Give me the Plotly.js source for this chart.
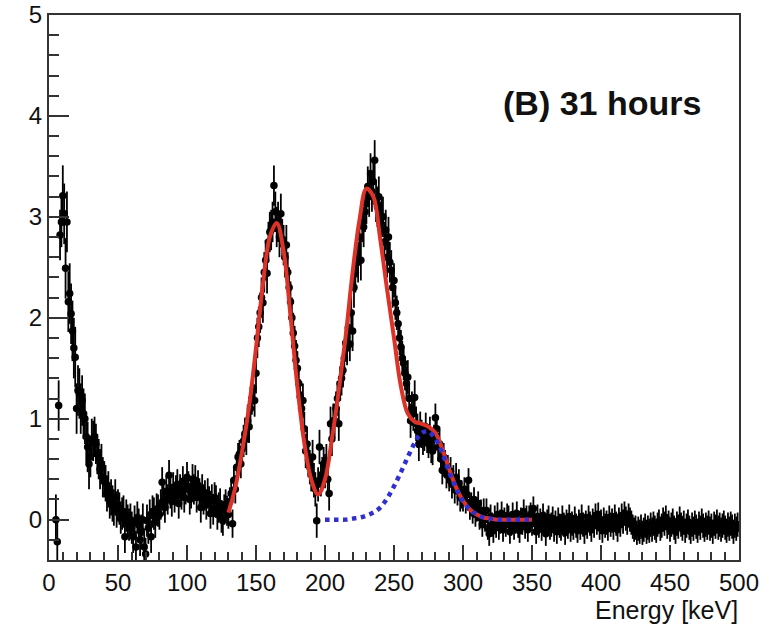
<!DOCTYPE html>
<html>
<head>
<meta charset="utf-8">
<script src="https://cdn.plot.ly/plotly-3.0.1.min.js"></script>
<style>
  html, body { margin: 0; padding: 0; background: #fff; }
  #chart { width: 768px; height: 627px; }
</style>
</head>
<body>
<div id="chart"></div>
<script>
// ---- Data: 1 keV bins, first bin centre at 5 keV ----
const binStart = 5;
const binWidth = 1;
const counts = [
  /* 5-9 */     0.00, -0.22, 1.13, 2.82, 2.95,
  /* 10-19 */   3.21, 3.03, 2.49, 2.95, 2.16, 2.24, 2.04, 1.87, 1.70, 1.61,
  /* 20-29 */   1.10, 1.28, 1.25, 1.10, 1.18, 1.05, 1.00, 0.82, 0.72, 0.55,
  /* 30-39 */   0.62, 0.80, 0.78, 0.82, 0.75, 0.65, 0.60, 0.50, 0.55, 0.42,
  /* 40-49 */   0.40, 0.36, 0.26, 0.30, 0.19, 0.22, 0.16, 0.12, 0.22, 0.10,
  /* 50-59 */   0.14, 0.11, 0.02, 0.06, 0.08, -0.17, 0.04, -0.01, -0.05, 0.00,
  /* 60-69 */   -0.08, -0.17, -0.02, -0.27, 0.02, -0.05, -0.20, -0.11, 0.00, -0.27,
  /* 70-79 */   -0.34, -0.01, -0.08, 0.04, -0.17, 0.08, 0.06, -0.02, 0.10, 0.09,
  /* 80-89 */   0.05, 0.15, 0.37, 0.19, 0.12, 0.28, 0.20, 0.44, 0.26, 0.18,
  /* 90-99 */   0.32, 0.22, 0.29, 0.35, 0.16, 0.30, 0.25, 0.38, 0.22, 0.30,
  /* 100-109 */ 0.42, 0.33, 0.20, 0.26, 0.40, 0.30, 0.39, 0.22, 0.34, 0.26,
  /* 110-119 */ 0.12, 0.30, 0.20, 0.24, 0.15, 0.26, 0.18, 0.06, 0.20, 0.10,
  /* 120-129 */ 0.22, 0.19, 0.05, 0.12, 0.16, 0.02, -0.01, 0.10, 0.15, 0.09,
  /* 130-139 */ 0.05, 0.18, 0.26, -0.04, 0.39, 0.30, 0.52, 0.62, 0.65, 0.55,
  /* 140-149 */ 0.70, 0.78, 0.85, 0.80, 0.98, 0.92, 1.10, 1.20, 1.30, 1.18,
  /* 150-159 */ 1.45, 1.80, 1.91, 2.05, 2.20, 2.15, 2.45, 2.57, 2.44, 2.75,
  /* 160-169 */ 2.85, 2.87, 2.95, 3.31, 3.05, 2.90, 2.95, 2.80, 3.03, 2.78,
  /* 170-179 */ 2.72, 2.60, 2.72, 2.45, 2.30, 2.16, 2.00, 1.85, 1.72, 1.58,
  /* 180-189 */ 1.50, 1.35, 1.22, 1.10, 1.18, 0.90, 0.68, 0.75, 0.59, 0.52,
  /* 190-199 */ 0.45, 0.62, 0.39, 0.30, -0.01, 0.35, 0.72, 0.40, 0.45, 0.55,
  /* 200-209 */ 0.48, 0.58, 0.40, 0.26, 0.95, 0.80, 0.98, 0.98, 1.10, 1.20,
  /* 210-219 */ 0.95, 1.35, 1.40, 1.48, 1.60, 1.75, 1.70, 1.90, 1.74, 2.05,
  /* 220-229 */ 1.87, 2.30, 2.45, 2.60, 2.55, 2.80, 2.57, 2.95, 2.90, 3.05,
  /* 230-239 */ 3.13, 3.30, 3.20, 3.43, 3.25, 3.35, 3.56, 3.15, 3.10, 3.20,
  /* 240-249 */ 2.95, 3.00, 3.00, 2.75, 2.87, 2.60, 2.80, 2.55, 2.47, 2.30,
  /* 250-259 */ 2.37, 2.15, 2.05, 1.94, 1.80, 1.71, 1.60, 1.55, 1.45, 1.35,
  /* 260-269 */ 1.41, 1.20, 0.98, 1.10, 1.05, 1.21, 0.95, 0.88, 0.75, 0.90,
  /* 270-279 */ 0.85, 0.78, 0.82, 0.92, 0.80, 0.75, 0.88, 0.70, 0.68, 0.80,
  /* 280-289 */ 1.01, 0.90, 0.72, 0.75, 0.60, 0.49, 0.62, 0.55, 0.45, 0.50,
  /* 290-299 */ 0.42, 0.48, 0.35, 0.40, 0.30, 0.42, 0.28, 0.36, 0.22, 0.25,
  /* 300-309 */ 0.20, 0.30, 0.18, 0.25, 0.39, 0.12, 0.15, 0.08, 0.20, 0.05,
  /* 310-319 */ 0.10, 0.16, 0.02, 0.08, -0.05, 0.09, 0.00, 0.09, -0.08, -0.14,
  /* 320-329 */ 0.03, -0.05, -0.11, 0.02, -0.06, 0.05, -0.08, -0.02, 0.06, -0.10,
  /* 330-339 */ 0.00, -0.05, 0.04, 0.02, -0.12, -0.04, 0.05, -0.08, -0.02, 0.06,
  /* 340-349 */ -0.06, -0.11, 0.00, -0.03, 0.08, -0.07, 0.02, -0.10, 0.02, 0.05,
  /* 350-359 */ -0.04, 0.11, -0.02, -0.12, 0.03, -0.06, -0.01, -0.09, 0.04, -0.04,
  /* 360-369 */ -0.14, -0.02, 0.02, -0.08, -0.05, 0.01, -0.10, -0.03, -0.12, 0.00,
  /* 370-379 */ -0.06, -0.09, 0.02, -0.05, -0.13, -0.02, -0.07, 0.03, -0.10, -0.04,
  /* 380-389 */ -0.08, 0.01, -0.06, -0.11, -0.02, -0.08, 0.03, -0.05, -0.12, -0.03,
  /* 390-399 */ -0.07, 0.02, -0.04, -0.10, -0.01, -0.06, 0.04, -0.03, 0.05, -0.08,
  /* 400-409 */ -0.02, -0.11, 0.00, -0.06, -0.03, -0.09, 0.02, -0.05, -0.01, -0.08,
  /* 410-419 */ 0.03, -0.04, -0.10, 0.00, -0.05, 0.04, -0.02, 0.06, 0.01, -0.03,
  /* 420-429 */ 0.04, 0.00, -0.03, -0.07, -0.10, -0.08, -0.13, -0.09, -0.12, -0.07,
  /* 430-439 */ -0.13, -0.10, -0.06, -0.12, -0.08, -0.11, -0.05, -0.10, -0.04, -0.08,
  /* 440-449 */ -0.11, -0.05, -0.02, -0.09, -0.06, 0.00, -0.04, 0.02, -0.07, -0.03,
  /* 450-459 */ -0.10, -0.05, -0.01, -0.08, -0.12, -0.04, -0.07, 0.01, -0.05, -0.09,
  /* 460-469 */ -0.03, -0.11, -0.06, -0.02, -0.08, -0.12, -0.05, -0.09, -0.03, -0.07,
  /* 470-479 */ -0.11, -0.04, -0.08, -0.01, -0.06, -0.10, -0.05, -0.08, -0.03, -0.09,
  /* 480-489 */ -0.06, -0.12, -0.04, -0.07, -0.02, -0.08, -0.05, -0.10, -0.06, -0.03,
  /* 490-499 */ -0.08, -0.11, -0.05, -0.09, -0.04, -0.07, -0.12, -0.06, -0.09, -0.05
];
// Error-bar half lengths, one value per 10 keV decade (0-9, 10-19, ... 490-499)
const errByDecade = [
  0.25, 0.30, 0.25, 0.20, 0.18, 0.16, 0.16, 0.16, 0.15, 0.15,
  0.15, 0.15, 0.15, 0.14, 0.16, 0.20, 0.20, 0.20, 0.17, 0.17,
  0.17, 0.17, 0.20, 0.20, 0.20, 0.17, 0.17, 0.14, 0.14, 0.14,
  0.12, 0.12, 0.12, 0.12, 0.12, 0.12, 0.12, 0.12, 0.12, 0.12,
  0.12, 0.12, 0.12, 0.12, 0.12, 0.12, 0.12, 0.12, 0.12, 0.12
];

const fitE = [130,135,140,145,150,155,160,165,170,175,180,185,190,195,200,205,210,215,220,225,230,235,240,245,250,255,260,265,270,275,280,285,290,295,300,305,310,315,320,325,330,335,340,345,350];
const fitTotal = [0.07,0.32,0.68,1.12,1.70,2.33,2.80,2.94,2.66,2.02,1.32,0.76,0.40,0.25,0.40,0.80,1.28,1.82,2.45,2.97,3.28,3.20,2.78,2.28,1.80,1.32,1.05,0.97,0.95,0.92,0.86,0.70,0.50,0.32,0.19,0.10,0.05,0.02,0.01,0.00,0.00,0.00,0.00,0.00,0.00];
const compE = [200,205,210,215,220,225,230,235,240,245,250,255,260,265,270,275,280,285,290,295,300,305,310,315,320,325,330,335,340,345,350];
const compPeak = [0.00,0.00,0.00,0.00,0.01,0.02,0.04,0.07,0.12,0.21,0.33,0.47,0.62,0.76,0.86,0.87,0.80,0.66,0.47,0.31,0.18,0.10,0.05,0.02,0.01,0.00,0.00,0.00,0.00,0.00,0.00];

// ---- Labels ----
const xTitle = 'Energy [keV]';
const panelLabel = '(B) 31 hours';

const energies = counts.map((_, i) => binStart + i * binWidth);
const errors = energies.map(e => errByDecade[Math.min(errByDecade.length - 1, Math.floor(e / 10))]);

const FONT = 'Liberation Sans, Arial, Helvetica, sans-serif';

const traces = [
  {
    x: energies, y: counts, type: 'scatter', mode: 'markers',
    marker: { color: '#000', size: 7.5 },
    error_y: { type: 'data', array: errors, visible: true, width: 0, thickness: 1.8, color: '#000' },
    hoverinfo: 'x+y'
  },
  {
    x: fitE, y: fitTotal, type: 'scatter', mode: 'lines',
    line: { color: '#dc3228', width: 4, shape: 'spline', smoothing: 1 }
  },
  {
    x: compE, y: compPeak, type: 'scatter', mode: 'lines',
    line: { color: '#3030d0', width: 4.5, dash: 'dot', shape: 'spline', smoothing: 1 }
  }
];

const axisCommon = {
  showgrid: false, zeroline: false,
  showline: true, linecolor: '#333', linewidth: 2, mirror: true,
  ticks: 'inside', tickcolor: '#333', tickwidth: 2,
  tickfont: { family: FONT, size: 24, color: '#111' }
};

const layout = {
  width: 768, height: 627,
  margin: { l: 49, r: 29, t: 15, b: 67, pad: 0 },
  paper_bgcolor: '#fff', plot_bgcolor: '#fff',
  showlegend: false,
  xaxis: Object.assign({}, axisCommon, {
    range: [0, 500], tick0: 0, dtick: 50, ticklen: 15,
    minor: { dtick: 10, ticklen: 8, tickwidth: 2, tickcolor: '#333', ticks: 'inside' }
  }),
  yaxis: Object.assign({}, axisCommon, {
    range: [-0.4, 5], tick0: 0, dtick: 1, ticklen: 20,
    minor: { dtick: 0.2, ticklen: 10, tickwidth: 2, tickcolor: '#333', ticks: 'inside' }
  }),
  annotations: [
    {
      text: xTitle, xref: 'paper', yref: 'paper', x: 1.002, y: -0.063,
      xanchor: 'right', yanchor: 'top', showarrow: false,
      font: { family: FONT, size: 25, color: '#111' }
    },
    {
      text: '<b>' + panelLabel + '</b>', xref: 'x', yref: 'y', x: 401, y: 4.13,
      xanchor: 'center', yanchor: 'middle', showarrow: false,
      font: { family: FONT, size: 34, color: '#111' }
    }
  ]
};

Plotly.newPlot('chart', traces, layout, { staticPlot: true, displayModeBar: false });
</script>
</body>
</html>
